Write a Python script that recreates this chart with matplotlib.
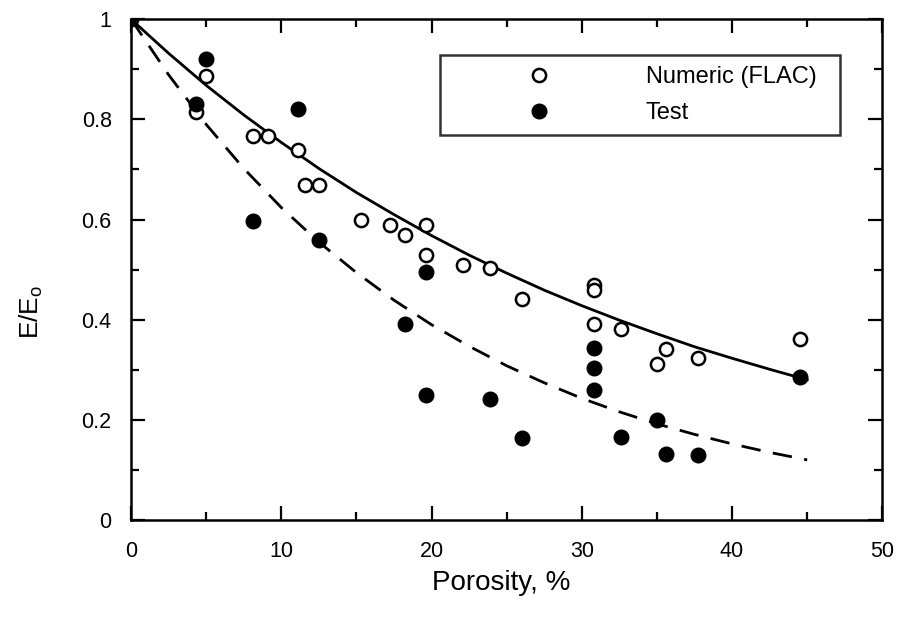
import numpy as np
import matplotlib.pyplot as plt
from matplotlib.ticker import MultipleLocator

plt.rcParams['font.family'] = ['Liberation Sans', 'DejaVu Sans']

# Numeric (FLAC) results - open circles
num_x = [4.3, 5.0, 8.1, 9.1, 11.1, 11.6, 12.5, 15.3, 17.2, 18.2, 19.6, 19.6,
         22.1, 23.9, 26.0, 30.8, 30.8, 30.8, 32.6, 35.0, 35.6, 37.7, 44.5]
num_y = [0.815, 0.886, 0.766, 0.766, 0.738, 0.669, 0.669, 0.600, 0.590, 0.570,
         0.590, 0.530, 0.510, 0.503, 0.441, 0.470, 0.460, 0.392, 0.382, 0.312,
         0.342, 0.323, 0.362]

# Test results - filled circles
test_x = [0.0, 4.3, 5.0, 8.1, 11.1, 12.5, 18.2, 19.6, 19.6, 23.9, 26.0,
          30.8, 30.8, 30.8, 32.6, 35.0, 35.6, 37.7, 44.5]
test_y = [1.0, 0.830, 0.920, 0.597, 0.820, 0.560, 0.391, 0.495, 0.250, 0.242,
          0.164, 0.343, 0.303, 0.259, 0.166, 0.200, 0.132, 0.130, 0.285]

# fitted curves
curve_x = [0, 2.5, 5, 7.5, 10, 12.5, 15, 17.5, 20, 22.5, 25, 27.5, 30, 32.5,
           35, 37.5, 40, 42.5, 45]
solid_y = [1.0, 0.932, 0.868, 0.809, 0.754, 0.702, 0.654, 0.610, 0.568, 0.529,
           0.493, 0.459, 0.428, 0.399, 0.372, 0.346, 0.323, 0.301, 0.280]
dashed_y = [1.0, 0.889, 0.790, 0.702, 0.624, 0.555, 0.494, 0.439, 0.390, 0.347,
            0.308, 0.274, 0.243, 0.216, 0.192, 0.171, 0.152, 0.135, 0.120]

fig = plt.figure(figsize=(9.04, 6.22), dpi=100)
ax = fig.add_axes([0.145, 0.164, 0.831, 0.805])

ax.plot(curve_x, solid_y, color='black', lw=2.0, zorder=2)
ax.plot(curve_x, dashed_y, color='black', lw=2.0, dashes=(7, 4.5), zorder=2)

ax.plot(num_x, num_y, 'o', ms=9.5, mfc='white', mec='black', mew=1.8,
        ls='none', label='Numeric (FLAC)', zorder=3)
ax.plot(test_x, test_y, 'o', ms=10.5, mfc='black', mec='black',
        ls='none', label='Test', zorder=4)

ax.set_xlim(0, 50)
ax.set_ylim(0, 1)
ax.xaxis.set_major_locator(MultipleLocator(10))
ax.xaxis.set_minor_locator(MultipleLocator(5))
ax.yaxis.set_minor_locator(MultipleLocator(0.1))
ax.set_yticks([0, 0.2, 0.4, 0.6, 0.8, 1.0])
ax.set_yticklabels(['0', '0.2', '0.4', '0.6', '0.8', '1'])
ax.tick_params(which='both', direction='in', top=True, right=True,
               labelsize=15.5, width=1.6)
ax.tick_params(axis='x', which='both', pad=15)
ax.tick_params(axis='y', which='both', pad=14)
ax.tick_params(which='major', length=10)
ax.tick_params(which='minor', length=6)
for s in ax.spines.values():
    s.set_linewidth(1.8)

ax.set_xlabel('Porosity, %', fontsize=20)
ax.set_ylabel(r'E/E$_\mathregular{o}$', fontsize=19)
ax.xaxis.set_label_coords(0.493, -0.1)
ax.yaxis.set_label_coords(-0.115, 0.415)

leg = ax.legend(loc='upper left', bbox_to_anchor=(0.411, 0.762, 0.533, 0.166),
                mode='expand', fontsize=17, frameon=True, fancybox=False,
                edgecolor='black', borderpad=0.47, labelspacing=0.57,
                handlelength=7.44, handletextpad=0.81, borderaxespad=0)
leg.get_frame().set_linewidth(1.8)

fig.savefig('out.png', dpi=100)
